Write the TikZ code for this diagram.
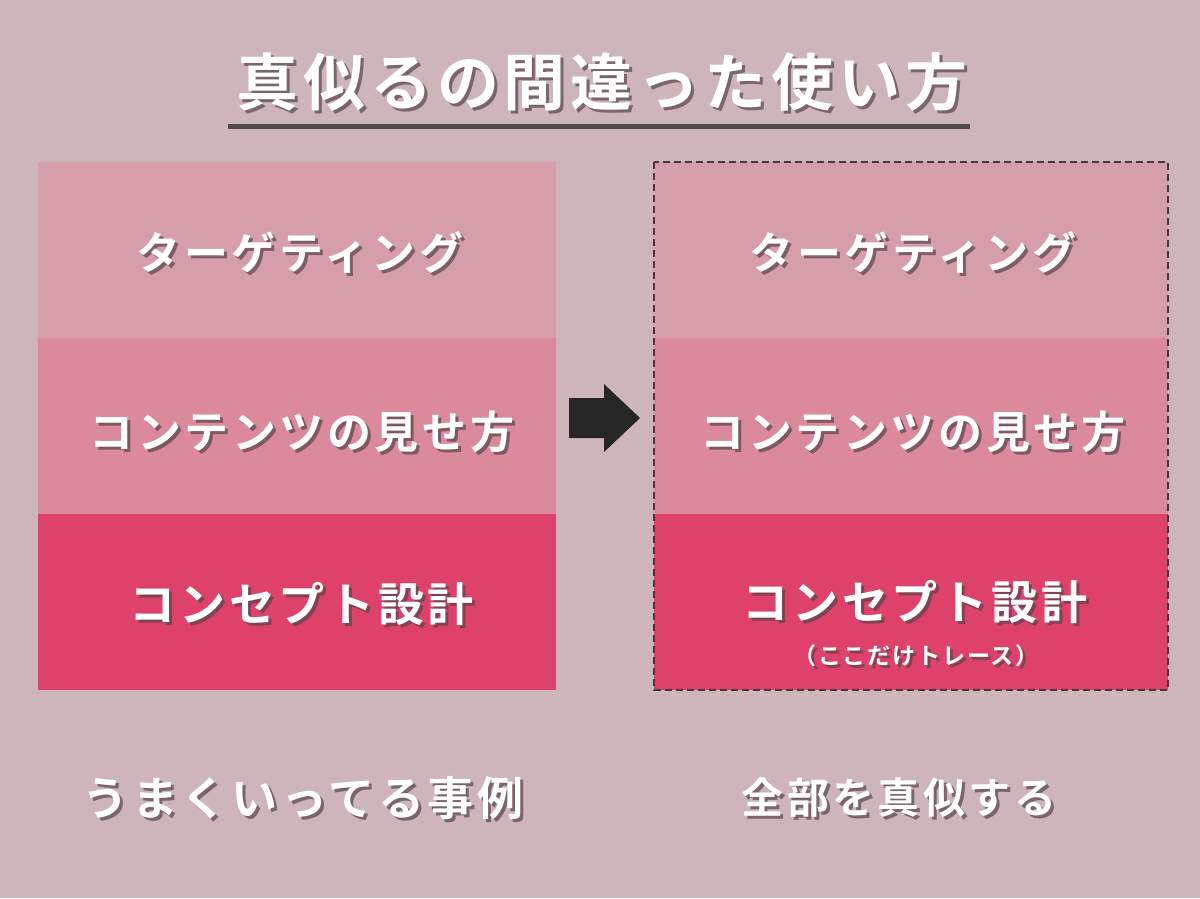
\documentclass[tikz,border=0pt]{standalone}
\usepackage{fontspec}
\newfontfamily\jp{Noto Sans CJK JP Bold}[LetterSpace=8]
\definecolor{bg}{HTML}{CDB5B9}
\definecolor{top}{HTML}{D59EA9}
\definecolor{mid}{HTML}{DB8A9C}
\definecolor{bot}{HTML}{DE4169}
\definecolor{sh}{HTML}{5A4448}
\usetikzlibrary{calc}
\newcommand{\stxt}[4]{% name, pos, size, text
 \node[font=\jp\fontsize{#3}{#3}\selectfont, text=sh, opacity=0.7] at ($(#2)+(3,3)$) {#4};
 \node[font=\jp\fontsize{#3}{#3}\selectfont, text=white] (#1) at (#2) {#4};}
\begin{document}
\begin{tikzpicture}[x=1pt,y=-1pt]
\fill[bg] (0,0) rectangle (1200,898);
\useasboundingbox (0,0) rectangle (1200,898);
\fill[top] (38,162) rectangle (556,338);
\fill[mid] (38,338) rectangle (556,514);
\fill[bot] (38,514) rectangle (556,690);
\fill[top] (654,162) rectangle (1168,338);
\fill[mid] (654,338) rectangle (1168,514);
\fill[bot] (654,514) rectangle (1168,690);
\draw[sh!80!black, line width=2.5pt, dash pattern=on 7pt off 4pt] (654,162) rectangle (1168,690);
\fill[black!85] (569,398) -- (604,398) -- (604,384) -- (640,418) -- (604,452) -- (604,438) -- (569,438) -- cycle;
\stxt{t}{602,82}{62}{真似るの間違った使い方}
\draw[black!70, line width=5pt] (228,126) -- (970,126);
\stxt{a1}{300,252}{44}{ターゲティング}
\stxt{a2}{302,432}{44}{コンテンツの見せ方}
\stxt{a3}{302,604}{46}{コンセプト設計}
\stxt{b1}{913,252}{44}{ターゲティング}
\stxt{b2}{913,432}{44}{コンテンツの見せ方}
\stxt{b3}{915,602}{46}{コンセプト設計}
\stxt{b4}{916,656}{23}{（ここだけトレース）}
\stxt{c1}{303,798}{46}{うまくいってる事例}
\stxt{c2}{899,798}{42}{全部を真似する}
\end{tikzpicture}
\end{document}
